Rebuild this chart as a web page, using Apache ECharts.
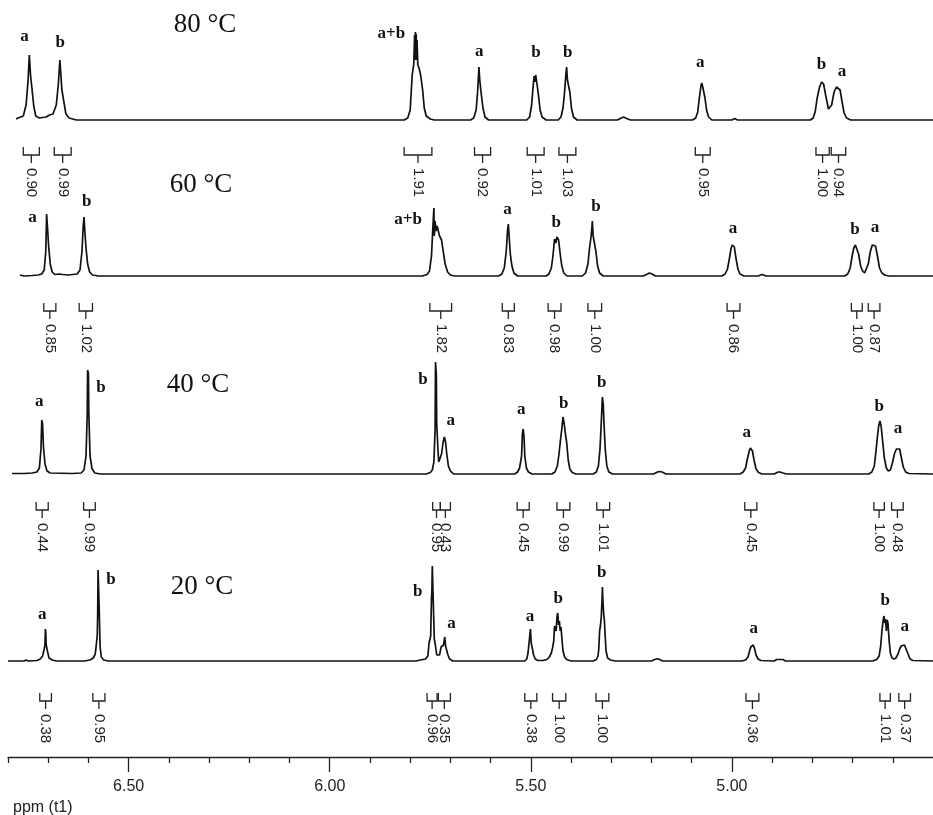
<!DOCTYPE html>
<html><head><meta charset="utf-8">
<script src="https://cdn.jsdelivr.net/npm/echarts@6/dist/echarts.min.js"></script>
<style>html,body{margin:0;padding:0;background:#fff}#chart{width:933px;height:815px}</style>
</head><body><div id="chart"></div>
<script>
// ---------- DATA (ppm, intensity) ----------
const temperatures = ['80 °C', '60 °C', '40 °C', '20 °C'];

const spec80 = [[6.780,1],[6.775,2],[6.762,4],[6.755,15],[6.750,40],[6.747,65],[6.744,45],[6.740,30],[6.736,14],[6.731,4],[6.722,2],
 [6.705,3],[6.697,5],[6.688,6],[6.680,15],[6.675,35],[6.671,60],[6.669,58],[6.666,30],[6.661,18],[6.656,6],[6.648,2],[6.630,0],
 [6.550,0],[6.549,1],[6.547,0],[6.400,0],[6.399,1.5],[6.397,0],[6.250,0],[6.249,1],[6.247,0],[6.100,0],[6.099,1],[6.097,0],
 [5.815,0],[5.806,2],[5.800,10],[5.795,45],[5.791,56],[5.789,85],[5.788,60],[5.787,88],[5.786,62],[5.785,86],[5.784,60],[5.783,80],[5.781,55],[5.778,52],[5.774,45],[5.769,30],[5.765,12],[5.760,4],[5.750,1],[5.740,0],
 [5.650,0],[5.642,2],[5.636,10],[5.632,30],[5.629,53],[5.627,40],[5.623,25],[5.619,12],[5.614,3],[5.605,0],
 [5.510,0],[5.503,3],[5.498,15],[5.495,30],[5.492,44],[5.490,38],[5.488,45],[5.486,40],[5.484,42],[5.481,25],[5.477,10],[5.472,3],[5.462,0],
 [5.432,0],[5.425,3],[5.420,12],[5.416,28],[5.413,45],[5.411,53],[5.409,40],[5.406,42],[5.403,28],[5.399,12],[5.394,3],[5.385,0],
 [5.285,0],[5.275,2],[5.269,3],[5.262,1.5],[5.252,0],
 [5.098,0],[5.090,2],[5.085,8],[5.081,22],[5.077,34],[5.075,37],[5.073,34],[5.070,33],[5.067,22],[5.063,10],[5.058,3],[5.050,0],
 [5.000,0],[4.993,1.5],[4.986,0],
 [4.805,0],[4.798,2],[4.793,8],[4.788,22],[4.782,33],[4.777,38],[4.772,36],[4.767,25],[4.760,11],[4.756,10],[4.752,15],[4.746,28],[4.740,33],[4.736,34],[4.731,30],[4.726,18],[4.721,7],[4.715,2],[4.705,0],
 [4.650,0],[4.649,1],[4.647,0],[4.560,0],[4.559,1],[4.557,0],[4.500,0]];

const spec60 = [[6.770,1],[6.760,0],[6.740,0.5],[6.725,1],
 [6.716,2],[6.710,6],[6.706,25],[6.704,62],[6.702,50],[6.699,30],[6.695,12],[6.690,4],[6.684,1.5],
 [6.672,2],[6.668,3.5],[6.664,1.5],[6.650,1],
 [6.628,2],[6.621,6],[6.616,25],[6.613,50],[6.611,59],[6.609,45],[6.606,28],[6.602,12],[6.597,4],[6.590,1],[6.575,0],
 [6.450,0],[6.449,-1],[6.447,0],[6.300,0],[6.299,-1],[6.297,0],[6.100,0],[6.099,-1],[6.097,0],
 [5.770,0],[5.758,1.5],[5.752,5],[5.747,20],[5.744,45],[5.741,68],[5.740,40],[5.738,55],[5.736,45],[5.733,50],[5.730,48],[5.727,40],[5.722,36],[5.718,25],[5.713,12],[5.707,4],[5.700,1],[5.690,0],
 [5.580,0],[5.572,2],[5.566,8],[5.561,25],[5.558,45],[5.556,52],[5.554,40],[5.551,22],[5.547,10],[5.542,3],[5.533,0],
 [5.462,0],[5.455,2],[5.449,8],[5.445,20],[5.441,37],[5.438,33],[5.435,39],[5.431,36],[5.427,22],[5.423,10],[5.418,3],[5.410,0],
 [5.372,0],[5.364,3],[5.358,12],[5.354,28],[5.350,40],[5.347,55],[5.345,40],[5.342,38],[5.338,24],[5.334,10],[5.329,3],[5.320,0],
 [5.220,0],[5.210,2],[5.205,3],[5.199,2],[5.190,0],
 [5.025,0],[5.017,2],[5.011,7],[5.006,18],[5.002,28],[4.999,31],[4.997,33],[4.994,29],[4.990,18],[4.985,7],[4.980,2],[4.970,0],
 [4.935,0],[4.925,1.5],[4.915,0],
 [4.720,0],[4.712,2],[4.706,8],[4.701,20],[4.697,28],[4.693,31],[4.689,30],[4.685,22],[4.680,10],[4.675,5],[4.670,3],[4.666,4],[4.661,12],[4.656,24],[4.651,31],[4.647,33],[4.643,30],[4.638,20],[4.633,8],[4.627,3],[4.620,1],[4.610,0],[4.500,0]];

const spec40 = [[6.790,0.5],[6.760,0.5],[6.740,1],
 [6.728,2],[6.722,6],[6.718,25],[6.716,54],[6.714,50],[6.712,28],[6.708,10],[6.703,3],[6.695,1],[6.640,0.5],
 [6.618,1],[6.611,4],[6.606,18],[6.603,60],[6.602,104],[6.600,100],[6.599,60],[6.596,18],[6.591,5],[6.584,1],[6.570,0],
 [6.480,0],[6.479,1.5],[6.477,0],[6.290,0],[6.289,-1],[6.287,0],[6.200,0],[6.199,-1],[6.197,0],[6.050,0],[6.049,-1],[6.047,0],
 [5.760,0],[5.750,1.5],[5.745,4],[5.741,12],[5.738,45],[5.737,112],[5.735,100],[5.734,50],[5.731,25],[5.729,12],[5.726,10],[5.722,20],[5.718,32],[5.715,37],[5.712,32],[5.709,20],[5.705,8],[5.700,3],[5.692,0],
 [5.540,0],[5.533,2],[5.528,6],[5.523,18],[5.521,40],[5.519,45],[5.517,38],[5.515,18],[5.511,6],[5.506,2],[5.497,0],
 [5.448,0],[5.440,2],[5.434,8],[5.430,20],[5.426,35],[5.423,45],[5.420,57],[5.417,50],[5.414,40],[5.411,32],[5.407,14],[5.403,5],[5.397,1.5],[5.388,0],
 [5.345,0],[5.337,2],[5.332,8],[5.328,25],[5.325,50],[5.322,77],[5.320,70],[5.318,50],[5.315,25],[5.311,8],[5.306,2],[5.297,0],
 [5.195,0],[5.185,2],[5.180,2.5],[5.174,2],[5.164,0],
 [4.980,0],[4.972,2],[4.966,6],[4.961,16],[4.957,23],[4.954,26],[4.952,27],[4.949,23],[4.945,14],[4.940,5],[4.934,1.5],[4.925,0],
 [4.895,0],[4.885,2],[4.880,2],[4.873,1],[4.865,0],
 [4.660,0],[4.652,2],[4.646,8],[4.642,22],[4.638,38],[4.635,48],[4.632,53],[4.629,48],[4.625,32],[4.621,16],[4.616,6],[4.611,3],[4.606,4],[4.601,11],[4.596,20],[4.591,25],[4.587,27],[4.583,25],[4.579,17],[4.574,7],[4.568,2],[4.560,0.5],[4.500,0]];

const spec20 = [[6.800,0],[6.760,0],[6.755,1],[6.750,0],
 [6.728,0.5],[6.720,2],[6.714,5],[6.710,12],[6.708,16],[6.707,32],[6.706,28],[6.705,16],[6.702,10],[6.698,3],[6.690,1],[6.680,0],
 [6.650,0],[6.648,1.2],[6.646,0],
 [6.610,0],[6.596,1],[6.588,3],[6.583,7],[6.580,18],[6.578,26],[6.577,48],[6.576,91],[6.574,91],[6.573,48],[6.571,14],[6.568,4],[6.562,1],[6.550,0],
 [6.010,0],[6.009,1.5],[6.007,0],[5.990,0],[5.989,1.5],[5.987,0],
 [5.785,0],[5.775,1],[5.762,2],[5.756,5],[5.753,18],[5.749,25],[5.747,63],[5.746,70],[5.745,95],[5.744,95],[5.743,65],[5.742,63],[5.740,22],[5.737,15],[5.734,6],[5.731,4],[5.727,6],[5.723,14],[5.720,15],[5.717,16],[5.714,24],[5.712,15],[5.709,14],[5.706,6],[5.702,2],[5.694,0],
 [5.550,0],[5.548,1.5],[5.546,0],
 [5.515,0],[5.510,2],[5.507,8],[5.505,16],[5.502,17],[5.501,32],[5.500,32],[5.499,18],[5.496,16],[5.493,6],[5.489,2],[5.482,0.5],
 [5.470,0.5],[5.460,1.5],[5.454,4],[5.449,8],[5.446,13],[5.443,20],[5.441,35],[5.439,36],[5.437,30],[5.435,44],[5.433,48],[5.431,36],[5.429,40],[5.427,30],[5.425,34],[5.423,24],[5.420,10],[5.416,4],[5.411,1.5],[5.400,0],
 [5.345,0],[5.337,1.5],[5.333,5],[5.331,12],[5.329,30],[5.327,35],[5.325,43],[5.323,60],[5.322,74],[5.321,62],[5.319,48],[5.317,40],[5.315,24],[5.313,10],[5.309,3],[5.302,1],[5.290,0],
 [5.200,0],[5.192,1.5],[5.186,2.2],[5.180,1.5],[5.172,0],
 [5.126,0],[5.124,1.5],[5.122,0],
 [4.975,0],[4.966,1],[4.960,4],[4.956,10],[4.953,14],[4.950,16],[4.947,16],[4.944,13],[4.940,6],[4.935,2],[4.928,0.5],
 [4.895,0],[4.889,1.5],[4.873,1.5],[4.867,0],
 [4.650,0],[4.640,1.5],[4.634,5],[4.630,15],[4.627,30],[4.624,40],[4.622,45],[4.620,38],[4.618,42],[4.616,30],[4.614,41],[4.612,38],[4.609,20],[4.606,8],[4.602,3],[4.597,2],[4.592,3],[4.587,7],[4.583,12],[4.579,15],[4.575,14],[4.571,16],[4.567,14],[4.562,7],[4.557,2],[4.550,0.5],[4.500,0]];

// peak assignment labels: [ppm, height, text]
const peaks80 = [[6.759,83,'a'],[6.670,77,'b'],[5.847,86,'a+b'],[5.628,68,'a'],[5.487,67,'b'],[5.408,67,'b'],[5.079,57,'a'],[4.777,55,'b'],[4.726,48,'a']];
const peaks60 = [[6.739,58,'a'],[6.604,74,'b'],[5.805,56,'a+b'],[5.558,66,'a'],[5.437,53,'b'],[5.338,69,'b'],[4.997,47,'a'],[4.694,46,'b'],[4.644,48,'a']];
const peaks40 = [[6.722,72,'a'],[6.569,86,'b'],[5.768,94,'b'],[5.699,53,'a'],[5.524,64,'a'],[5.418,70,'b'],[5.324,91,'b'],[4.963,41,'a'],[4.634,67,'b'],[4.587,45,'a']];
const peaks20 = [[6.715,46,'a'],[6.544,81,'b'],[5.781,69,'b'],[5.697,37,'a'],[5.502,44,'a'],[5.432,62,'b'],[5.324,88,'b'],[4.946,32,'a'],[4.619,60,'b'],[4.570,34,'a']];

// integrals: [ppm from, ppm to, value]
const integ80 = [[6.762,6.722,0.90],[6.685,6.643,0.99],[5.815,5.746,1.91],[5.640,5.600,0.92],[5.509,5.467,1.01],[5.430,5.388,1.03],[5.091,5.054,0.95],[4.791,4.758,1.00],[4.753,4.717,0.94]];
const integ60 = [[6.711,6.681,0.85],[6.623,6.590,1.02],[5.751,5.697,1.82],[5.571,5.541,0.83],[5.457,5.425,0.98],[5.358,5.324,1.00],[5.012,4.980,0.86],[4.703,4.676,1.00],[4.661,4.632,0.87]];
const integ40 = [[6.730,6.700,0.44],[6.612,6.583,0.99],[5.744,5.725,0.95],[5.725,5.700,0.43],[5.534,5.504,0.45],[5.435,5.403,0.99],[5.336,5.304,1.01],[4.968,4.938,0.45],[4.647,4.621,1.00],[4.603,4.574,0.48]];
const integ20 = [[6.721,6.692,0.38],[6.589,6.559,0.95],[5.758,5.733,0.96],[5.730,5.700,0.35],[5.515,5.485,0.38],[5.446,5.413,1.00],[5.338,5.306,1.00],[4.965,4.933,0.36],[4.632,4.606,1.01],[4.585,4.556,0.37]];

// axis ticks (ppm)
const majorTicks = [6.5, 6.0, 5.5, 5.0];
const minorTicks = [6.8,6.7,6.6,6.4,6.3,6.2,6.1,5.9,5.8,5.7,5.6,5.4,5.3,5.2,5.1,4.9,4.8,4.7,4.6];
const ppmMin = 4.5, ppmMax = 6.8;

// ---------- LAYOUT ----------
const spectra = [spec80, spec60, spec40, spec20];
const peakLabels = [peaks80, peaks60, peaks40, peaks20];
const integrals = [integ80, integ60, integ40, integ20];
const baselines = [120, 276, 474, 661];
const bracketOffsets = [27, 27, 28, 32];
const titlePos = [[205,25],[201,185],[198,385],[202,587]];
const GH = 120;

const chart = echarts.init(document.getElementById('chart'), null, {renderer: 'canvas'});
const grids = [], xAxes = [], yAxes = [], series = [];
spectra.forEach((s, i) => {
  grids.push({left: 8, width: 931, top: baselines[i] - GH, height: GH});
  xAxes.push({type: 'value', gridIndex: i, min: ppmMin, max: ppmMax, inverse: true, show: false});
  yAxes.push({type: 'value', gridIndex: i, min: 0, max: GH, show: false});
  series.push({
    type: 'line', xAxisIndex: i, yAxisIndex: i, data: s, showSymbol: false, clip: false,
    lineStyle: {color: '#111', width: 1.7}, silent: true, animation: false
  });
  const integ = integrals[i];
  series.push({
    type: 'custom', xAxisIndex: i, yAxisIndex: i, clip: false, silent: true, animation: false,
    data: integ.map(d => [d[0], d[1]]),
    renderItem: (params, api) => {
      const d = integ[params.dataIndex];
      const p1 = api.coord([d[0], 0]);
      const p2 = api.coord([d[1], 0]);
      const top = p1[1] + bracketOffsets[i];
      const bar = top + 8;
      const xm = (p1[0] + p2[0]) / 2;
      const st = {stroke: '#222', lineWidth: 1.3, fill: null};
      return {type: 'group', children: [
        {type: 'polyline', shape: {points: [[p1[0], top], [p1[0], bar], [p2[0], bar], [p2[0], top]]}, style: st},
        {type: 'line', shape: {x1: xm, y1: bar, x2: xm, y2: bar + 8}, style: st},
        {type: 'text', x: xm, y: bar + 13, rotation: -Math.PI / 2,
         style: {text: d[2].toFixed(2), font: '15px "Liberation Sans"', fill: '#222', align: 'left', verticalAlign: 'middle'}}
      ]};
    }
  });
  const pk = peakLabels[i];
  series.push({
    type: 'custom', xAxisIndex: i, yAxisIndex: i, clip: false, silent: true, animation: false,
    data: pk.map(d => [d[0], d[1]]),
    renderItem: (params, api) => {
      const d = pk[params.dataIndex];
      const p = api.coord([d[0], d[1]]);
      return {type: 'text', x: p[0], y: p[1],
        style: {text: d[2], font: 'bold 17px "Liberation Serif"', fill: '#111', align: 'center', verticalAlign: 'middle'}};
    }
  });
});

// visible ppm axis (attached below the 20 °C trace)
xAxes.push({
  type: 'value', gridIndex: 3, min: ppmMin, max: ppmMax, inverse: true, position: 'bottom', offset: 96,
  axisLine: {show: true, lineStyle: {color: '#222', width: 1.3}},
  axisTick: {show: true, customValues: minorTicks, length: 6, lineStyle: {color: '#222', width: 1.3}},
  axisLabel: {show: false}, splitLine: {show: false}
});
xAxes.push({
  type: 'value', gridIndex: 3, min: ppmMin, max: ppmMax, inverse: true, position: 'bottom', offset: 96,
  axisLine: {show: false},
  axisTick: {show: true, customValues: majorTicks, length: 15, lineStyle: {color: '#222', width: 1.3}},
  axisLabel: {show: true, customValues: majorTicks, formatter: v => v.toFixed(2), fontSize: 16,
    fontFamily: 'Liberation Sans', color: '#222', margin: 22},
  splitLine: {show: false}
});

const graphic = temperatures.map((t, i) => ({
  type: 'text', x: titlePos[i][0], y: titlePos[i][1], silent: true,
  style: {text: t, font: '27px "Liberation Serif"', fill: '#111', align: 'center', verticalAlign: 'middle'}
}));
graphic.push({type: 'text', x: 13, y: 808, silent: true,
  style: {text: 'ppm (t1)', font: '16px "Liberation Sans"', fill: '#222', align: 'left', verticalAlign: 'middle'}});

chart.setOption({
  animation: false,
  backgroundColor: '#fff',
  grid: grids, xAxis: xAxes, yAxis: yAxes, series: series, graphic: graphic
});
</script></body></html>
